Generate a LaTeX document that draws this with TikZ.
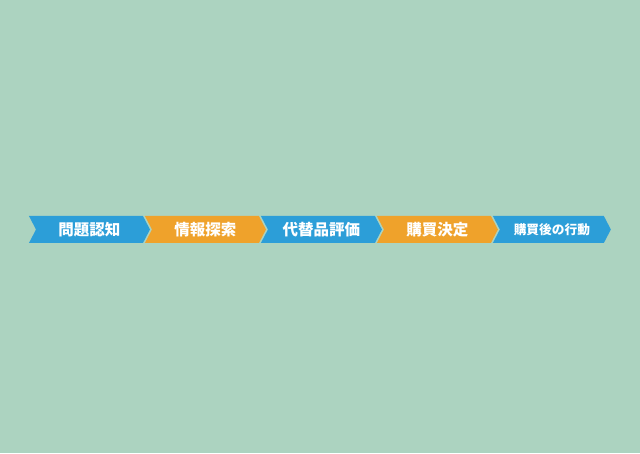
\documentclass[tikz,border=0pt]{standalone}
\usepackage{fontspec}
\newfontfamily\cjk{Noto Sans CJK JP}
\usepackage{tikz}
\usetikzlibrary{positioning, shapes.symbols}
\definecolor{bgmint}{HTML}{ACD3C0}
\definecolor{stepblue}{HTML}{2C9ED8}
\definecolor{steporange}{HTML}{EFA22B}
\begin{document}
\begin{tikzpicture}[
  stage/.style={signal, signal from=west, signal to=east, signal pointer angle=125,
    fill=stepblue, minimum width=121pt, minimum height=27pt, inner sep=0pt, outer sep=0pt,
    text=white, font=\cjk\bfseries\fontsize{15.5pt}{15.5pt}\selectfont},
  alt/.style={fill=steporange}
]
\fill[bgmint] (0,0) rectangle (640pt,453pt);
\useasboundingbox (0,0) rectangle (640pt,453pt);
\node (p) [stage, anchor=west] at (36pt,223.5pt) {問題認知};
\node (i) [stage, alt, right=2pt of p] {情報探索};
\node (e) [stage, right=2pt of i] {代替品評価};
\node (d) [stage, alt, right=2pt of e] {購買決定};
\node (b) [stage, right=2pt of d, minimum width=118pt, font=\cjk\bfseries\fontsize{12.7pt}{12.7pt}\selectfont] {購買後の行動};
\end{tikzpicture}
\end{document}
